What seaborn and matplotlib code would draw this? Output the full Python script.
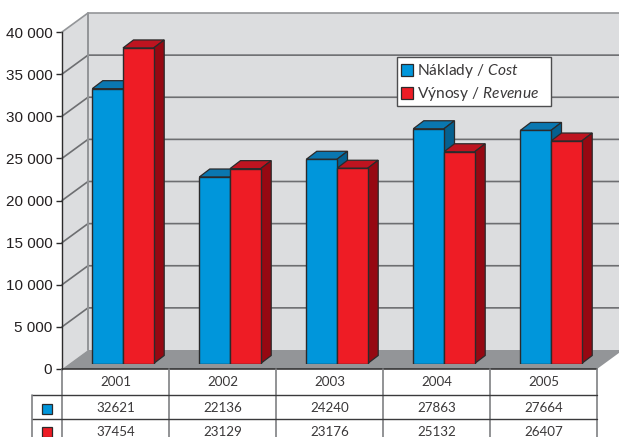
import matplotlib
matplotlib.use("Agg")
import matplotlib.pyplot as plt
from matplotlib.patches import Polygon, Rectangle
import pandas as pd
import seaborn as sns

years = ["2001", "2002", "2003", "2004", "2005"]
cost = [32621, 22136, 24240, 27863, 27664]
revenue = [37454, 23129, 23176, 25132, 26407]
series_names = ["Cost", "Revenue"]
legend_labels = ["Náklady / $\\mathit{Cost}$", "Výnosy / $\\mathit{Revenue}$"]
yticks = [0, 5000, 10000, 15000, 20000, 25000, 30000, 35000, 40000]
ytick_labels = ["0", "5 000", "10 000", "15 000", "20 000", "25 000", "30 000", "35 000", "40 000"]

sns.set_style("white")
plt.rcParams["font.family"] = ["Lato", "DejaVu Sans"]
plt.rcParams["mathtext.fontset"] = "custom"
plt.rcParams["mathtext.it"] = "Lato:italic"
plt.rcParams["mathtext.rm"] = "Lato"
plt.rcParams["mathtext.default"] = "it"

W, H = 619, 437
L, R, TOP, BOT = 62, 597, 32, 369      # front plane of the plot, pixels
WALL_DX, WALL_DY = 26, 19              # depth of the walls
BAR_DX, BAR_DY = 10.5, 8               # depth of the bars
SHIFT_X, SHIFT_Y = 7.5, 5.5            # bars sit behind the front edge of the floor

PX_X = 5 / (R - L)                     # data x per pixel
PX_Y = 40000 / (BOT - TOP)             # data y per pixel

WALL = "#DCDDDF"
FLOOR = "#939598"
GRID = "#6D6E71"
DARK = "#2B2A2B"
TBL = "#7F8083"
TXT = "#3A3839"
BLUE, BLUE_TOP, BLUE_SIDE = "#0096DB", "#0A77B0", "#05608F"
RED, RED_TOP, RED_SIDE = "#EE1C25", "#BE1420", "#960812"

fig = plt.figure(figsize=(W / 100, H / 100), dpi=100)


def rect(x0, y0, x1, y1):
    return [x0 / W, 1 - y1 / H, (x1 - x0) / W, (y1 - y0) / H]


ax = fig.add_axes(rect(L, TOP, R, BOT))
ax.set_xlim(-0.5, 4.5)
ax.set_ylim(0, 40000)
ax.patch.set_visible(False)
for s in ["top", "right", "bottom"]:
    ax.spines[s].set_visible(False)
ax.spines["left"].set_color(DARK)
ax.spines["left"].set_linewidth(1)
ax.set_xticks([])
ax.set_yticks(yticks, ytick_labels, family="Liberation Sans", fontsize=11, color="#231F20")
ax.tick_params(axis="y", left=True, length=4, width=1, color=DARK, pad=3)

wx, wy = WALL_DX * PX_X, WALL_DY * PX_Y
x0, x1 = -0.5, 4.5
# side wall, back wall, floor
ax.add_patch(Polygon([(x0, 0), (x0 + wx, wy), (x0 + wx, 40000 + wy), (x0, 40000)],
                     fc=WALL, ec="none", clip_on=False, zorder=0))
ax.add_patch(Polygon([(x0 + wx, wy), (x1 + wx, wy), (x1 + wx, 40000 + wy), (x0 + wx, 40000 + wy)],
                     fc=WALL, ec="none", clip_on=False, zorder=0))
ax.add_patch(Polygon([(x0, 0), (x1, 0), (x1 + wx, wy), (x0 + wx, wy)],
                     fc=FLOOR, ec="none", clip_on=False, zorder=0.5))
for v in yticks[1:-1]:
    ax.plot([x0, x0 + wx, x1 + wx], [v, v + wy, v + wy], color=GRID, lw=1.2, clip_on=False, zorder=1)
ax.plot([x0, x0 + wx, x1 + wx], [40000, 40000 + wy, 40000 + wy], color=FLOOR, lw=1.2, clip_on=False, zorder=1)
ax.plot([x0 + wx, x0 + wx], [wy, 40000 + wy], color=FLOOR, lw=1.4, clip_on=False, zorder=1)

# data table
row_y = [BOT, 395, 418.5, 442]
def ty(p):
    return (BOT - p) * PX_Y
ax.plot([x0, x1], [0, 0], color=DARK, lw=1.1, clip_on=False, zorder=2)
for i in range(6):
    ax.plot([x0 + i, x0 + i], [0, ty(442)], color=TBL, lw=1.2, clip_on=False, zorder=2)
key_left = x0 - 30 * PX_X
for p in row_y[1:]:
    ax.plot([key_left, x1], [ty(p), ty(p)], color="#3A3A3C", lw=1, clip_on=False, zorder=2)
ax.plot([key_left, key_left], [ty(395), ty(442)], color=TBL, lw=1.2, clip_on=False, zorder=2)
for i, y in enumerate(years):
    for p, s in zip([382.5, 408, 431.5], [y, str(cost[i]), str(revenue[i])]):
        ax.text(i, ty(p), s, ha="center", va="center", fontsize=9.6,
                color=TXT, clip_on=False)
for p, col in zip([408.5, 431.5], [BLUE, RED]):
    ax.add_patch(Rectangle((x0 - 20 * PX_X, ty(p + 5)), 10 * PX_X, 10 * PX_Y,
                           fc=col, ec=DARK, lw=0.9, clip_on=False, zorder=3))

# bars in their own plane, further back than the front edge of the floor
bx = fig.add_axes(rect(L + SHIFT_X, TOP - SHIFT_Y, R + SHIFT_X, BOT - SHIFT_Y))
df = pd.DataFrame({
    "year": years * 2,
    "value": cost + revenue,
    "series": [series_names[0]] * 5 + [series_names[1]] * 5,
})
sns.barplot(data=df, x="year", y="value", hue="series", order=years, hue_order=series_names,
            palette=[BLUE, RED], width=0.574, gap=0, dodge=True, saturation=1,
            edgecolor=DARK, linewidth=1, legend=False, ax=bx)
bx.set_xlim(-0.5, 4.5)
bx.set_ylim(0, 40000)
bx.axis("off")

dx, dy = BAR_DX * PX_X, BAR_DY * PX_Y
for cont, top_c, side_c, z in zip(bx.containers, [BLUE_TOP, RED_TOP], [BLUE_SIDE, RED_SIDE], [2, 3]):
    for p in cont.patches:
        a, w, h = p.get_x(), p.get_width(), p.get_height()
        p.set_zorder(5)
        bx.add_patch(Polygon([(a, h), (a + w, h), (a + w + dx, h + dy), (a + dx, h + dy)],
                             fc=top_c, ec=DARK, lw=0.9, clip_on=False, zorder=z))
        bx.add_patch(Polygon([(a + w, 0), (a + w + dx, dy), (a + w + dx, h + dy), (a + w, h)],
                             fc=side_c, ec=DARK, lw=0.9, clip_on=False, zorder=z))

# legend: fixed frame, with the entries placed inside it
fx, fy, fw, fh = rect(396.5, 57, 551, 106)
fig.add_artist(Rectangle((fx, fy), fw, fh, transform=fig.transFigure, fc="white",
                         ec="#4D4D4F", lw=1, zorder=4))
handles = [Rectangle((0, 0), 1, 1, fc=BLUE, ec=DARK, lw=0.9),
           Rectangle((0, 0), 1, 1, fc=RED, ec=DARK, lw=0.9)]
leg = fig.legend(handles, legend_labels,
                 loc="upper left", bbox_to_anchor=(400.5 / W, 1 - 62.5 / H),
                 fontsize=11.2, frameon=False, borderpad=0, labelspacing=0.3,
                 handlelength=0.8, handleheight=0.8, handletextpad=0.25, borderaxespad=0)
leg.set_zorder(5)
for t in leg.get_texts():
    t.set_color(TXT)

fig.savefig("out.png", dpi=100)
